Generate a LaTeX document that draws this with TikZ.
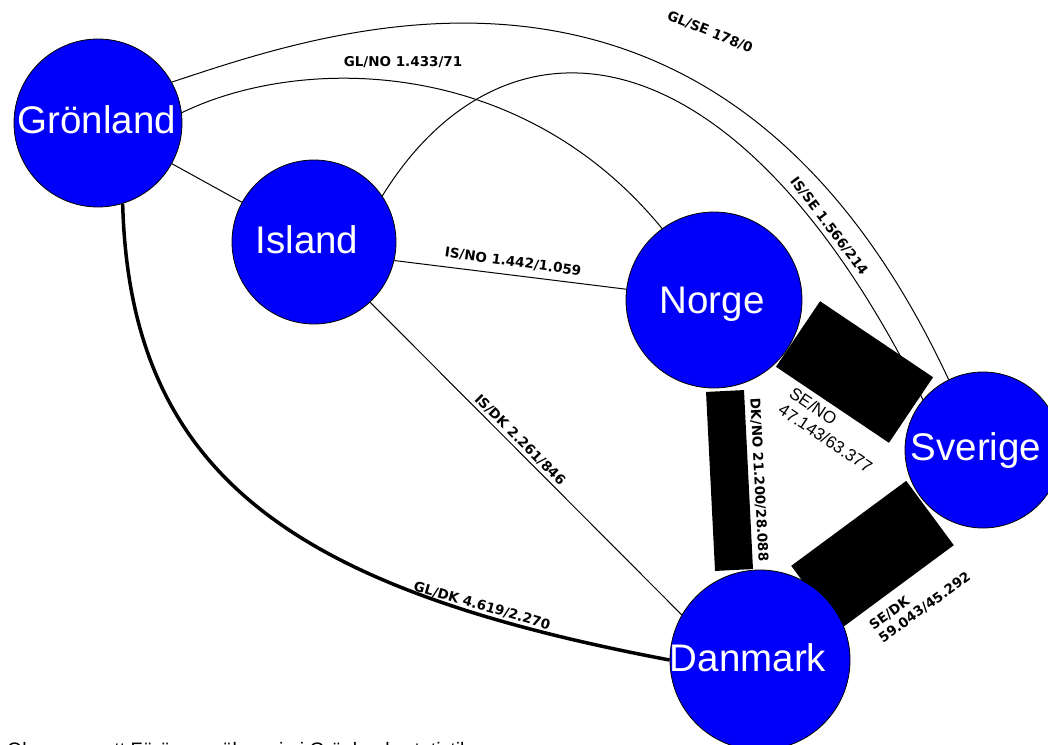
\documentclass[tikz,border=0pt]{standalone}
\usepackage{fontspec}
\setmainfont{Liberation Sans}
\newfontfamily\djb{DejaVu Sans}
\usetikzlibrary{calc}
\pgfdeclarelayer{bg}
\pgfsetlayers{bg,main}
\definecolor{cblue}{RGB}{0,0,250}
\begin{document}
\begin{tikzpicture}[x=1pt,y=-1pt,
 country/.style={circle,draw=black,line width=0.8pt,fill=cblue,inner sep=0pt},
 cname/.style={text=white,font=\fontsize{38.5}{40}\selectfont,text height=27pt,text depth=0pt,inner sep=0pt},
 thinedge/.style={line width=1pt,draw=black},
 thickedge/.style={line width=3.5pt,draw=black},
 baredge/.style={draw=black,line cap=butt},
 elab/.style={font=\djb\bfseries\fontsize{13.5}{16}\selectfont,inner sep=1pt,align=left},
 blab/.style={font=\fontsize{17}{19.5}\selectfont,align=left,inner sep=0pt}]
\useasboundingbox (0,0) rectangle (1048,744);
\clip (0,0) rectangle (1048,744);

\node[country,minimum size=168pt,label={[cname,xshift=-1pt,yshift=3pt]center:Grönland}] (GL) at (98,123) {};
\node[country,minimum size=164pt,label={[cname,xshift=-7pt,yshift=2pt]center:Island}] (IS) at (314,242) {};
\node[country,minimum size=176pt,label={[cname,xshift=-2pt]center:Norge}] (NO) at (714,300) {};
\node[country,minimum size=156pt,label={[cname,xshift=-7pt,yshift=3pt]center:Sverige}] (SE) at (983,450) {};
\node[country,minimum size=180pt,label={[cname,xshift=-12pt,yshift=2pt]center:Danmark}] (DK) at (760,660) {};

\begin{pgfonlayer}{bg}
\fill[white] (0,0) rectangle (1048,744);
\draw[thinedge] (GL) -- (IS);
\draw[thinedge] (GL.7) .. controls (300,55) and (520,55) .. (NO.126);
\draw[thinedge] (GL.29) .. controls (330,30) and (720,-110) .. (SE.116);
\draw[thinedge] (IS.34) .. controls (500,5) and (730,10) .. (SE.140);
\draw[thinedge] (IS.-13) -- (NO.173);
\draw[thinedge] (IS.-47) -- (DK.150);
\draw[thickedge] (GL.-73) .. controls (130,480) and (300,590) .. (DK.180);
\draw[baredge,line width=79pt] ($(NO.center)+(84,34)$) -- ($(SE.center)+(-72,-40)$);
\draw[baredge,line width=38pt] ($(NO.center)+(11,91)$) -- ($(DK.center)+(-26,-90)$);
\draw[baredge,line width=80pt] ($(DK.center)+(55,-62)$) -- ($(SE.center)+(-53,63)$);
\end{pgfonlayer}

\node[elab] (lGLNO) at (403,62) {GL/NO 1.433/71};
\node[elab,rotate=-22] (lGLSE) at (710,32) {GL/SE 178/0};
\node[elab,rotate=-53] (lISSE) at (829,226) {IS/SE 1.566/214};
\node[elab,rotate=-8] (lISNO) at (513,262) {IS/NO 1.442/1.059};
\node[elab,rotate=-45] (lISDK) at (520,440) {IS/DK 2.261/846};
\node[elab,rotate=-16] (lGLDK) at (482,606) {GL/DK 4.619/2.270};
\node[elab,rotate=-87] (lDKNO) at (759,480) {DK/NO 21.200/28.088};
\node[blab,rotate=-34] (lSENO) at (831,430) {SE/NO\\47.143/63.377};
\node[elab,rotate=36] (lSEDK) at (920,601) {SE/DK\\59.043/45.292};
\node[anchor=base west,font=\fontsize{19.5}{20}\selectfont,inner sep=0pt] (note) at (7,756) {Observera att Färöarna räknas in i Grönlands statistik};
\end{tikzpicture}
\end{document}
